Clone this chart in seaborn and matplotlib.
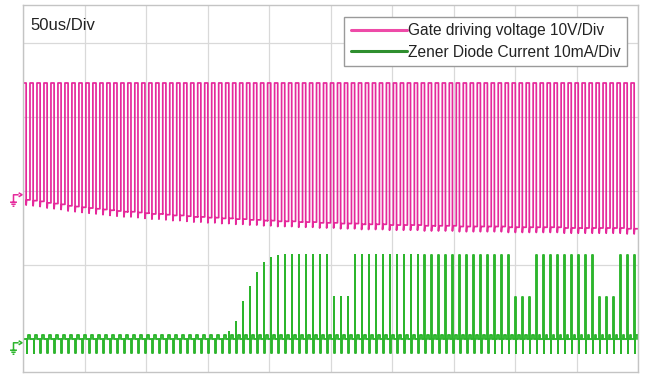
import numpy as np
import pandas as pd
import matplotlib
matplotlib.use("Agg")
import matplotlib.pyplot as plt
from matplotlib.lines import Line2D
from matplotlib.path import Path
import seaborn as sns

# --- values (y in divisions, x in microseconds) ---
TIME_SPAN = 500.0          # 10 div x 50 us
N_PULSES = 88
PINK_GND = 2.0             # channel 1 ground marker (div)
GREEN_GND = 0.0            # channel 2 ground marker (div)
PINK_HIGH = 1.46           # gate high level above ground (div)
PINK_DUTY = 0.45

# gate low level per pulse (div, relative to ground) - slowly drifting negative
pink_low = [
    -0.12, -0.13, -0.14, -0.16, -0.17, -0.18, -0.20, -0.21,
    -0.22, -0.23, -0.24, -0.25, -0.26, -0.27, -0.28, -0.28,
    -0.29, -0.30, -0.31, -0.31, -0.32, -0.33, -0.33, -0.34,
    -0.35, -0.35, -0.36, -0.36, -0.37, -0.37, -0.38, -0.38,
    -0.39, -0.39, -0.40, -0.40, -0.41, -0.41, -0.41, -0.42,
    -0.42, -0.42, -0.43, -0.43, -0.43, -0.44, -0.44, -0.44,
    -0.45, -0.45, -0.45, -0.45, -0.46, -0.46, -0.46, -0.46,
    -0.46, -0.47, -0.47, -0.47, -0.47, -0.47, -0.48, -0.48,
    -0.48, -0.48, -0.48, -0.48, -0.48, -0.49, -0.49, -0.49,
    -0.49, -0.49, -0.49, -0.49, -0.49, -0.50, -0.50, -0.50,
    -0.50, -0.50, -0.50, -0.50, -0.50, -0.50, -0.51, -0.51,
]

# zener current spike peak per pulse (div above ground)
green_peak = [
    0.00, 0.00, 0.00, 0.00, 0.00, 0.00, 0.00, 0.00,
    0.00, 0.00, 0.00, 0.00, 0.00, 0.00, 0.00, 0.00,
    0.00, 0.00, 0.00, 0.00, 0.00, 0.00, 0.00, 0.00,
    0.00, 0.00, 0.00, 0.00, 0.00, 0.10, 0.23, 0.50,
    0.70, 0.89, 1.03, 1.09, 1.12, 1.13, 1.13, 1.13,
    1.13, 1.13, 1.13, 1.13, 0.57, 0.57, 0.57, 1.13,
    1.13, 1.13, 1.13, 1.13, 1.13, 1.13, 1.13, 1.13,
    1.13, 1.13, 1.13, 1.13, 1.13, 1.13, 1.13, 1.13,
    1.13, 1.13, 1.13, 1.13, 1.13, 1.13, 0.57, 0.57,
    0.57, 1.13, 1.13, 1.13, 1.13, 1.13, 1.13, 1.13,
    1.13, 1.13, 0.57, 0.57, 0.57, 1.13, 1.13, 1.13,
]
GREEN_NEG = -0.19          # undershoot after each spike
GREEN_RIPPLE = 0.05        # small hump on the baseline

PINK = "#e5299b"
GREEN = "#2cb52c"
LEG_PINK = "#ee4ba8"
LEG_GREEN = "#2f8f2f"

T = TIME_SPAN / N_PULSES

# build step traces from the per-pulse readings
px, py = [], []
for i, low in enumerate(pink_low):
    t0 = i * T
    tf = t0 + PINK_DUTY * T
    prev = pink_low[i - 1] if i else low
    px += [t0, t0, tf, tf, tf + 0.35, t0 + T]
    py += [prev, PINK_HIGH, PINK_HIGH, low - 0.07, low, low]
pink = pd.DataFrame({"t": px, "v": np.array(py) + PINK_GND})

gx, gy = [], []
for i, pk in enumerate(green_peak):
    tg = i * T + PINK_DUTY * T
    gx += [tg, tg, tg + 0.3, tg + 0.3, tg + 0.9, tg + 0.9,
           tg + 1.9, tg + 1.9, tg + 3.4, tg + 3.4]
    gy += [0.0, pk, pk, GREEN_NEG, GREEN_NEG, 0.0,
           0.0, GREEN_RIPPLE, GREEN_RIPPLE, 0.0]
gx = [0.0] + gx + [TIME_SPAN]
gy = [0.0] + gy + [0.0]
green = pd.DataFrame({"t": gx, "v": np.array(gy) + GREEN_GND})

sns.set_theme(style="white")
plt.rcParams["font.family"] = ["Liberation Sans", "DejaVu Sans"]

fig = plt.figure(figsize=(6.45, 3.8), dpi=100)
ax = fig.add_axes([23 / 645, 8 / 380, 615 / 645, 367 / 380])

sns.lineplot(data=pink, x="t", y="v", estimator=None, sort=False,
             color=PINK, lw=1.25, ax=ax)
sns.lineplot(data=green, x="t", y="v", estimator=None, sort=False,
             color=GREEN, lw=1.35, ax=ax)

ax.set_xlim(0, TIME_SPAN)
ax.set_ylim(-0.446, 4.514)
ax.set_xticks(np.arange(0, TIME_SPAN + 1, 50))
ax.set_yticks(np.arange(0, 5, 1))
ax.grid(True, color="#d9d9d9", lw=0.9)
ax.set_axisbelow(True)
ax.tick_params(length=0, labelbottom=False, labelleft=False)
ax.set_xlabel("")
ax.set_ylabel("")
for s in ax.spines.values():
    s.set_color("#c4c4c4")
    s.set_linewidth(1.0)

# ground/channel markers on the left edge
gnd = Path(
    [(0, -1), (0, 0.3), (0.9, 0.3),
     (0.9, 0.65), (1.5, 0.3), (0.9, -0.05),
     (-0.6, -1), (0.6, -1), (-0.38, -1.35), (0.38, -1.35),
     (-0.16, -1.7), (0.16, -1.7)],
    [Path.MOVETO, Path.LINETO, Path.LINETO,
     Path.MOVETO, Path.LINETO, Path.LINETO,
     Path.MOVETO, Path.LINETO, Path.MOVETO, Path.LINETO,
     Path.MOVETO, Path.LINETO])
for lvl, c in [(PINK_GND, PINK), (GREEN_GND, GREEN)]:
    ax.plot([-8.5], [lvl - 0.07], marker=gnd, ms=14, mew=1.1, mec=c,
            mfc="none", clip_on=False, ls="none")

ax.text(0.012, 0.945, "50us/Div", transform=ax.transAxes, fontsize=12,
        color="#222222", va="center", ha="left")

handles = [Line2D([], [], color=LEG_PINK, lw=2.2),
           Line2D([], [], color=LEG_GREEN, lw=2.2)]
labels = ["Gate driving voltage 10V/Div", "Zener Diode Current 10mA/Div"]
leg = ax.legend(handles, labels, loc="upper right",
                bbox_to_anchor=(0.982, 0.967), borderaxespad=0,
                fontsize=11.2, handlelength=3.6, handletextpad=0.1,
                labelspacing=0.4, borderpad=0.4, fancybox=False,
                framealpha=1, edgecolor="#9a9a9a")
leg.get_frame().set_linewidth(1.0)
for t in leg.get_texts():
    t.set_color("#222222")

fig.savefig("out.png", dpi=100)
